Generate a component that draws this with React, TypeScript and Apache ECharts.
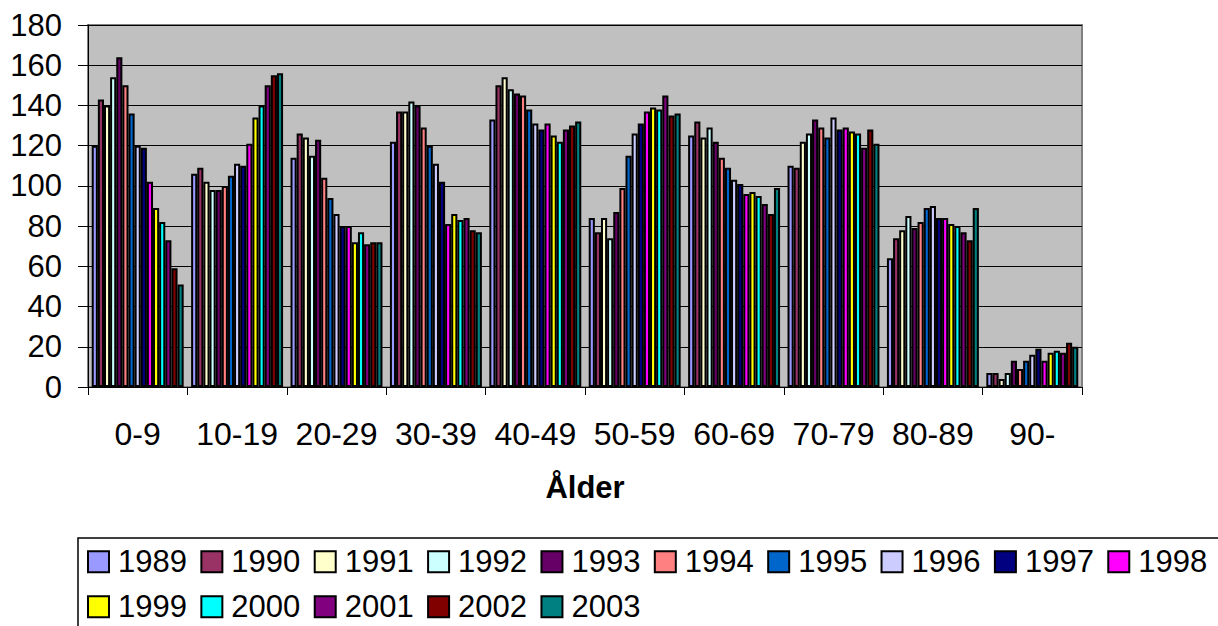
import React, { useEffect, useRef } from "react";
import * as echarts from "echarts";

const categories = ["0-9", "10-19", "20-29", "30-39", "40-49", "50-59", "60-69", "70-79", "80-89", "90-"];
const years = ["1989", "1990", "1991", "1992", "1993", "1994", "1995", "1996", "1997", "1998", "1999", "2000", "2001", "2002", "2003"];

const v1989 = [120, 106, 114, 122, 133, 84, 125, 110, 64, 7];
const v1990 = [143, 109, 126, 137, 150, 77, 132, 109, 74, 7];
const v1991 = [140, 102, 124, 137, 154, 84, 124, 122, 78, 4];
const v1992 = [154, 98, 115, 142, 148, 74, 129, 126, 85, 7];
const v1993 = [164, 98, 123, 140, 146, 87, 122, 133, 79, 13];
const v1994 = [150, 100, 104, 129, 145, 99, 114, 129, 82, 9];
const v1995 = [136, 105, 94, 120, 138, 115, 109, 124, 89, 13];
const v1996 = [120, 111, 86, 111, 131, 126, 103, 134, 90, 16];
const v1997 = [119, 110, 80, 102, 128, 131, 101, 128, 84, 19];
const v1998 = [102, 121, 80, 81, 131, 137, 96, 129, 84, 13];
const v1999 = [89, 134, 72, 86, 125, 139, 97, 127, 81, 17];
const v2000 = [82, 140, 77, 83, 122, 138, 95, 126, 80, 18];
const v2001 = [73, 150, 71, 84, 128, 145, 91, 119, 77, 17];
const v2002 = [59, 155, 72, 78, 130, 135, 86, 128, 73, 22];
const v2003 = [51, 156, 72, 77, 132, 136, 99, 121, 89, 20];

const seriesValues = [v1989, v1990, v1991, v1992, v1993, v1994, v1995, v1996, v1997, v1998, v1999, v2000, v2001, v2002, v2003];

const colors = [
  "#9999FF", "#993366", "#FFFFCC", "#CCFFFF", "#660066", "#FF8080", "#0066CC", "#CCCCFF",
  "#000080", "#FF00FF", "#FFFF00", "#00FFFF", "#800080", "#800000", "#008080",
];

const yTicks = { min: 0, max: 180, interval: 20 };
const xAxisTitle = "Ålder";

const FONT = "Arial, 'Liberation Sans', sans-serif";

export default function App() {
  const ref = useRef<HTMLDivElement>(null);
  useEffect(() => {
    if (!ref.current) return;
    const chart = echarts.init(ref.current, undefined, { renderer: "svg" });
    chart.setOption({
      animation: false,
      textStyle: { fontFamily: FONT },
      grid: {
        left: 88,
        right: 136,
        top: 25,
        bottom: 239,
        show: true,
        backgroundColor: "#C0C0C0",
        borderColor: "#808080",
        borderWidth: 2,
      },
      xAxis: {
        type: "category",
        data: categories,
        name: xAxisTitle,
        nameLocation: "middle",
        nameGap: 85,
        nameTextStyle: { fontFamily: FONT, fontSize: 31, fontWeight: "bold", color: "#000" },
        axisLine: { lineStyle: { color: "#000", width: 1 } },
        axisTick: { show: true, length: 8, lineStyle: { color: "#000" } },
        axisLabel: { interval: 0, margin: 31, fontFamily: FONT, fontSize: 32, color: "#000" },
        splitLine: { show: false },
      },
      yAxis: {
        type: "value",
        min: yTicks.min,
        max: yTicks.max,
        interval: yTicks.interval,
        axisLine: { show: true, lineStyle: { color: "#000", width: 1 } },
        axisTick: { show: true, length: 10, lineStyle: { color: "#000" } },
        axisLabel: { margin: 26, fontFamily: FONT, fontSize: 31, color: "#000" },
        splitLine: { show: true, lineStyle: { color: "#000", width: 1 } },
      },
      legend: {
        left: 87,
        top: 546,
        width: 1131,
        padding: 0,
        itemWidth: 21,
        itemHeight: 21,
        itemGap: 13.4,
        icon: "rect",
        textStyle: { fontFamily: FONT, fontSize: 31, color: "#000", lineHeight: 31.6, padding: [0, 0, 0, 4] },
        data: years,
      },
      graphic: [
        {
          type: "rect",
          shape: { x: 78, y: 538, width: 1160, height: 120 },
          style: { fill: "none", stroke: "#000", lineWidth: 1.5 },
          z: -1,
        },
      ],
      series: years.map((y, i) => ({
        name: y,
        type: "bar",
        data: seriesValues[i],
        barGap: "0%",
        barCategoryGap: "7.5%",
        itemStyle: { color: colors[i], borderColor: "#000", borderWidth: 2 },
      })),
    });
    return () => chart.dispose();
  }, []);
  return (
    <div
      ref={ref}
      style={{ position: "absolute", left: 0, top: 0, width: 1218, height: 626 }}
    />
  );
}
